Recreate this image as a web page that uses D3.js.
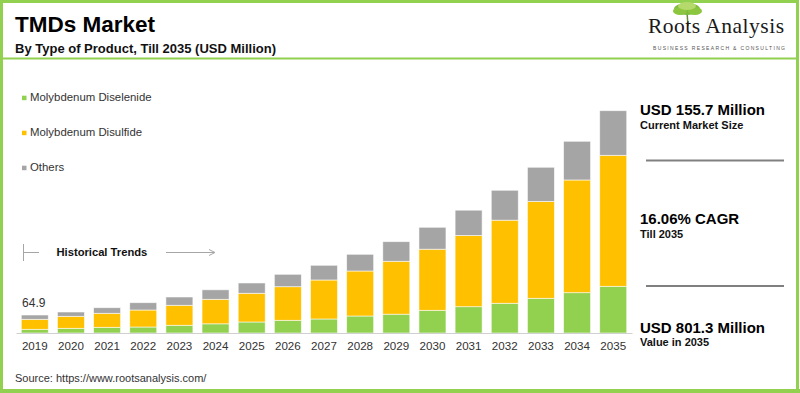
<!DOCTYPE html>
<html><head><meta charset="utf-8">
<script src="https://cdn.jsdelivr.net/npm/d3@7"></script>
<style>
html,body{margin:0;padding:0;background:#fff;}
svg{display:block;font-family:Arial,"Liberation Sans",sans-serif;}
</style></head>
<body><svg id="c" width="800" height="393"></svg>
<script>
const years = ["2019","2020","2021","2022","2023","2024","2025","2026","2027","2028","2029","2030","2031","2032","2033","2034","2035"];
const diselenide = [13.3,16.9,20.5,21.6,27.8,33.1,39.7,45.8,50.5,61.3,67.8,81.8,94.8,107.1,125.1,145.3,168.3];
const disulfide  = [36.1,43.3,50.5,61.3,72.1,88.4,103.5,121.1,140.6,162.2,190.7,220.3,256.7,299.6,349.0,406.3,472.2];
const others     = [15.5,15.5,20.2,26.3,29.9,34.2,37.1,44.7,53.0,60.2,70.7,79.0,91.2,107.8,123.3,139.5,160.8];
const seriesNames = ["Molybdenum Diselenide","Molybdenum Disulfide","Others"];
const seriesColors = ["#92d050","#ffc000","#a5a5a5"];
const firstLabel = "64.9";
const stats = [
  {big:"USD 155.7 Million", small:"Current Market Size"},
  {big:"16.06% CAGR", small:"Till 2035"},
  {big:"USD 801.3 Million", small:"Value in 2035"}
];

const svg = d3.select("#c");
const green = "#92d050";

// frame
svg.append("rect").attr("x",1.5).attr("y",1.5).attr("width",796).attr("height",389.5)
  .attr("fill","#fff").attr("stroke",green).attr("stroke-width",3);
svg.append("rect").attr("x",0).attr("y",389).attr("width",800).attr("height",4).attr("fill",green);
svg.append("line").attr("x1",3).attr("x2",797).attr("y1",58.5).attr("y2",58.5)
  .attr("stroke",green).attr("stroke-width",1.8);

// titles
svg.append("text").attr("x",15).attr("y",32.3).attr("font-size",22.5).attr("font-weight","bold")
  .attr("fill","#000").text("TMDs Market");
svg.append("text").attr("x",15).attr("y",53.3).attr("font-size",13).attr("font-weight","bold")
  .attr("fill","#111").text("By Type of Product, Till 2035 (USD Million)");

// logo
const logo = svg.append("g");
logo.append("line").attr("x1",687).attr("x2",688).attr("y1",12).attr("y2",26).attr("stroke","#6a8a3a").attr("stroke-width",1.5);
[[687,9,13,6,"#7dbb3c"],[680,11,7,4,"#8cc63f"],[695,11,7,4,"#8cc63f"],[687,6,9,4,"#b5d96a"]].forEach(d=>{
  logo.append("ellipse").attr("cx",d[0]).attr("cy",d[1]).attr("rx",d[2]).attr("ry",d[3]).attr("fill",d[4]);
});
logo.append("text").attr("x",648).attr("y",33).attr("font-family","'Liberation Serif','DejaVu Serif',serif")
  .attr("font-size",21.5).attr("fill","#1a1a1a").attr("textLength",136).text("Roots Analysis");
logo.append("text").attr("x",653).attr("y",50).attr("font-size",5).attr("fill","#555")
  .attr("textLength",132).attr("lengthAdjust","spacing").text("BUSINESS RESEARCH & CONSULTING");

// legend
seriesNames.forEach((n,i)=>{
  const y = 100.7 + i*35;
  svg.append("rect").attr("x",22).attr("y",y-5).attr("width",4.5).attr("height",4.5).attr("fill",seriesColors[i]);
  svg.append("text").attr("x",30).attr("y",y).attr("font-size",11.4).attr("fill","#333").text(n);
});

// historical trends
const ht = svg.append("g").attr("stroke","#a6a6a6").attr("stroke-width",1);
ht.append("line").attr("x1",23.5).attr("x2",23.5).attr("y1",244).attr("y2",261);
ht.append("line").attr("x1",23.5).attr("x2",39).attr("y1",252.5).attr("y2",252.5);
ht.append("line").attr("x1",166).attr("x2",214).attr("y1",252.5).attr("y2",252.5);
svg.append("path").attr("d","M209,249.5 L215,252.5 L209,255.5").attr("fill","none").attr("stroke","#a6a6a6");
svg.append("text").attr("x",56.5).attr("y",255.5).attr("font-size",11.2).attr("font-weight","bold")
  .attr("fill","#111").text("Historical Trends");

// scales
const x = d3.scaleBand().domain(years).range([16,632]).paddingInner(0.253).paddingOuter(0.146);
const totals = years.map((y,i)=>diselenide[i]+disulfide[i]+others[i]);
const y = d3.scaleLinear().domain([0, d3.max(totals)]).range([333,110.7]);

const rows = years.map((yr,i)=>({year:yr, a:diselenide[i], b:disulfide[i], c:others[i]}));
const stack = d3.stack().keys(["a","b","c"])(rows);

svg.append("g").selectAll("g").data(stack).join("g")
  .attr("fill",(d,i)=>seriesColors[i])
  .selectAll("rect").data(d=>d).join("rect")
  .attr("x",d=>x(d.data.year)).attr("width",x.bandwidth())
  .attr("y",d=>y(d[1])).attr("height",d=>y(d[0])-y(d[1]))
  .attr("stroke","#fff").attr("stroke-opacity",0.7).attr("stroke-width",0.8);

// axis
const axis = d3.axisBottom(x).tickSize(0).tickPadding(0);
const ag = svg.append("g").attr("transform","translate(0,333)").call(axis);
ag.select(".domain").attr("stroke","#d0d0d0").attr("stroke-width",1.2);
ag.selectAll("text").attr("font-size",11.6).attr("fill","#333").attr("font-family","Arial,'Liberation Sans',sans-serif")
  .attr("dy",0).attr("y",17);

// first value label
svg.append("text").attr("x",x(years[0])+x.bandwidth()/2).attr("y",y(totals[0])-7.5)
  .attr("text-anchor","middle").attr("font-size",12).attr("fill","#333").attr("dx",-1).text(firstLabel);

// right panel
const bigY = [115,224.3,332.7];
stats.forEach((s,i)=>{
  svg.append("text").attr("x",640).attr("y",bigY[i]).attr("font-size",15).attr("font-weight","bold")
    .attr("fill","#000").text(s.big);
  svg.append("text").attr("x",640).attr("y",bigY[i]+13.5).attr("font-size",11).attr("font-weight","bold")
    .attr("fill","#111").text(s.small);
});
[160.5,286].forEach(yy=>{
  svg.append("line").attr("x1",646).attr("x2",784).attr("y1",yy).attr("y2",yy)
    .attr("stroke","#808080").attr("stroke-width",1.8);
});

// source
svg.append("text").attr("x",15).attr("y",382).attr("font-size",11).attr("fill","#333")
  .text("Source: https://www.rootsanalysis.com/");
</script>
</body></html>
